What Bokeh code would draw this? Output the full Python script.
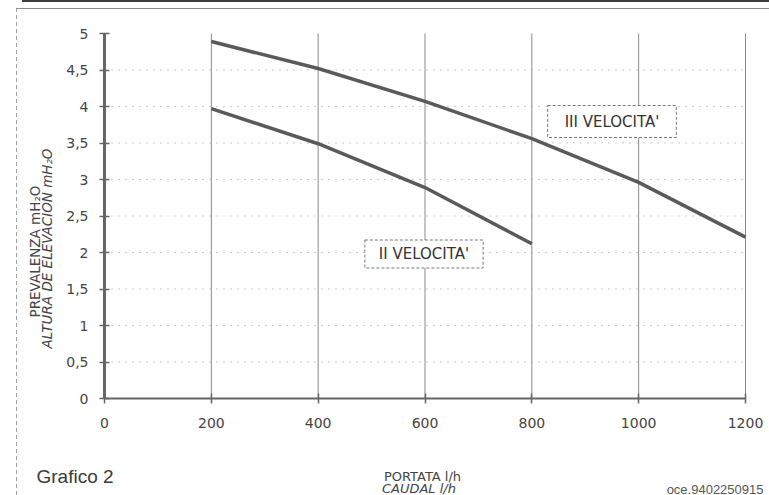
import math
from bokeh.plotting import figure
from bokeh.models import Range1d, FixedTicker, Label
from bokeh.embed import file_html
from bokeh.resources import INLINE

# ---- data ----
portata_iii = [200, 400, 600, 800, 1000, 1200]
prevalenza_iii = [4.89, 4.52, 4.07, 3.56, 2.96, 2.21]
portata_ii = [200, 400, 600, 800]
prevalenza_ii = [3.97, 3.49, 2.89, 2.12]

x_ticks = [0, 200, 400, 600, 800, 1000, 1200]
y_ticks = [0, 0.5, 1, 1.5, 2, 2.5, 3, 3.5, 4, 4.5, 5]
y_tick_labels = ["0", "0,5", "1", "1,5", "2", "2,5", "3", "3,5", "4", "4,5", "5"]

label_ii = "II VELOCITA'"
label_iii = "III VELOCITA'"
y_title_1 = "PREVALENZA mH\u2082O"
y_title_2 = "ALTURA DE ELEVACION mH\u2082O"
x_title_1 = "PORTATA l/h"
x_title_2 = "CAUDAL  l/h"
caption = "Grafico 2"
code = "oce.9402250915"

FONT = "DejaVu Sans"
TXT = "#444444"

# ---- layout: the plotting frame covers the whole canvas ----
W, H = 769, 495
AX_L, AX_R, AX_T, AX_B = 104, 745, 33, 398          # pixel box of the chart area
XMIN, XMAX = x_ticks[0], x_ticks[-1]
YMIN, YMAX = y_ticks[0], y_ticks[-1]
kx = (AX_R - AX_L) / (XMAX - XMIN)
ky = (AX_B - AX_T) / (YMAX - YMIN)
X = lambda px: XMIN + (px - AX_L) / kx
Y = lambda py: YMIN + (AX_B - py) / ky

p = figure(width=W, height=H,
           x_range=Range1d(X(0), X(W)), y_range=Range1d(Y(H), Y(0)),
           output_backend="svg", toolbar_location=None,
           min_border_left=0, min_border_right=0, min_border_top=0, min_border_bottom=0)
p.title.text = ""
p.title.visible = False
p.border_fill_color = None
p.background_fill_color = None
p.outline_line_color = None
p.xgrid.visible = False
p.ygrid.visible = False
p.styles = {
    "background": "linear-gradient(#3c3c3c,#3c3c3c) 22px 0/747px 2px no-repeat, "
                  "linear-gradient(#8c8c8c,#8c8c8c) 16px 8px/753px 1px no-repeat, "
                  "repeating-linear-gradient(to bottom, #a0a0a0 0px, #a0a0a0 4px, transparent 4px, transparent 7px) 16px 8px/1px 487px no-repeat",
}

# grid lines
p.segment(x0=x_ticks[1:], y0=YMIN, x1=x_ticks[1:], y1=YMAX, line_color="#8a8a8a", line_width=1)
p.segment(x0=XMIN, y0=y_ticks[1:-1], x1=XMAX, y1=y_ticks[1:-1], line_color="#9a9a9a",
          line_width=1, line_dash="1 6")

# axes pinned at the origin
p.xaxis.fixed_location = YMIN
p.yaxis.fixed_location = XMIN
p.xaxis.bounds = (XMIN, XMAX)
p.yaxis.bounds = (YMIN, YMAX)
p.xaxis.ticker = FixedTicker(ticks=x_ticks)
p.yaxis.ticker = FixedTicker(ticks=y_ticks)
p.yaxis.major_label_overrides = {t: s for t, s in zip(y_ticks, y_tick_labels)}
for ax in (p.xaxis[0], p.yaxis[0]):
    ax.axis_line_color = "#666666"
    ax.major_tick_line_color = "#666666"
    ax.major_tick_line_width = 1.5
    ax.major_tick_in = 5
    ax.major_tick_out = 5
    ax.minor_tick_line_color = None
    ax.major_label_text_font = FONT
    ax.major_label_text_font_size = "14px"
    ax.major_label_text_color = TXT
p.yaxis.axis_line_width = 3
p.xaxis.axis_line_width = 2
p.yaxis.major_label_standoff = 11
p.xaxis.major_label_standoff = 14

# curves
p.line(portata_iii, prevalenza_iii, line_color="#5a5a5a", line_width=3.5)
p.line(portata_ii, prevalenza_ii, line_color="#5a5a5a", line_width=3.5)

# boxed curve labels (padding = (horizontal, vertical))
for txt, cx, cy, pad in ((label_ii, 423.5, 253.5, (14, 5)), (label_iii, 611.5, 121, (17, 7))):
    p.add_layout(Label(x=X(cx), y=Y(cy), text=txt, text_align="center", text_baseline="middle",
                       text_font=FONT, text_font_size="15px", text_color="#333333",
                       background_fill_color="white", border_line_color="#777777",
                       border_line_dash="3 2", border_line_width=1, padding=pad))

# axis titles and captions
p.add_layout(Label(x=X(34.5), y=Y(251), text=y_title_1, angle=math.pi / 2,
                   text_align="center", text_baseline="middle",
                   text_font=FONT, text_font_size="13.5px", text_color=TXT))
p.add_layout(Label(x=X(46), y=Y(248), text=y_title_2, angle=math.pi / 2,
                   text_align="center", text_baseline="middle",
                   text_font=FONT, text_font_size="13.5px", text_font_style="italic",
                   text_color=TXT))
p.add_layout(Label(x=X(422), y=Y(476), text=x_title_1,
                   text_align="center", text_baseline="alphabetic",
                   text_font=FONT, text_font_size="13px", text_color=TXT))
p.add_layout(Label(x=X(420.5), y=Y(488), text=x_title_2,
                   text_align="center", text_baseline="alphabetic",
                   text_font=FONT, text_font_size="13px", text_font_style="italic",
                   text_color=TXT))
p.add_layout(Label(x=X(36), y=Y(475.5), text=caption,
                   text_align="left", text_baseline="alphabetic",
                   text_font="Liberation Sans", text_font_size="19px", text_color="#3a3a3a"))
p.add_layout(Label(x=X(763), y=Y(488.5), text=code,
                   text_align="right", text_baseline="alphabetic",
                   text_font="Liberation Sans", text_font_size="13px", text_color="#555555"))

open("out.html", "w").write(file_html(p, INLINE))
